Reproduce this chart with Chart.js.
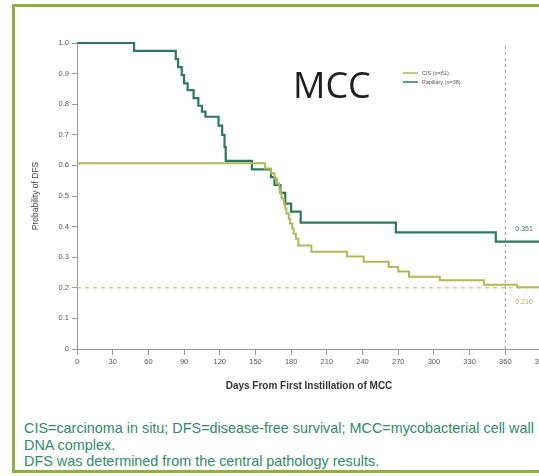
<!DOCTYPE html>
<html>
<head>
<meta charset="utf-8">
<script src="https://cdn.jsdelivr.net/npm/chart.js@4/dist/chart.umd.min.js"></script>
<style>
  body { margin: 0; background: #fff; overflow: hidden; width: 539px; height: 476px; position: relative; font-family: "Liberation Sans", Arial, sans-serif; }
  #frame { position: absolute; left: 12px; top: 4px; width: 600px; height: 463px; border: 3px solid #8fb13c; }
  #wrap { position: absolute; left: 0; top: 0; width: 560px; height: 400px; }
  #notes { position: absolute; left: 24px; top: 420px; font-size: 14.4px; line-height: 16.5px; color: #2f8a68; }
</style>
</head>
<body>
<div id="frame"></div>
<div id="wrap"><canvas id="myChart" width="560" height="400"></canvas></div>
<div id="notes">CIS=carcinoma in situ; DFS=disease-free survival; MCC=mycobacterial cell wall<br>DNA complex.<br>DFS was determined from the central pathology results.</div>
<script>
// data
const xTicks = [0, 30, 60, 90, 120, 150, 180, 210, 240, 270, 300, 330, 360, 390]
const yTicks = [0, 0.1, 0.2, 0.3, 0.4, 0.5, 0.6, 0.7, 0.8, 0.9, 1.0]

const cisDays = [0, 158, 163, 166, 168, 170, 171, 172, 174, 175, 176, 178, 179, 181, 182, 184, 186, 197, 227, 241, 262, 270, 279, 305, 342, 370, 390]
const cisSurv = [0.607, 0.59, 0.574, 0.557, 0.541, 0.525, 0.508, 0.492, 0.475, 0.459, 0.443, 0.426, 0.41, 0.393, 0.377, 0.36, 0.338, 0.318, 0.302, 0.285, 0.268, 0.253, 0.236, 0.225, 0.21, 0.202, 0.202]

const papDays = [0, 48, 83, 85, 88, 90, 93, 98, 102, 105, 108, 119, 122, 124, 125, 147, 163, 166, 171, 175, 180, 188, 268, 352, 390]
const papSurv = [1.0, 0.974, 0.947, 0.921, 0.895, 0.868, 0.846, 0.82, 0.795, 0.776, 0.759, 0.73, 0.70, 0.66, 0.615, 0.587, 0.562, 0.536, 0.51, 0.475, 0.449, 0.413, 0.381, 0.351, 0.351]

const refDay = 360
const refLevel = 0.2
const cisAt360 = 0.210
const papAt360 = 0.351

const cisColor = '#aebb55'
const papColor = '#2b7a5e'

let cisPts = []
for (let i = 0; i < cisDays.length; i++) {
    cisPts.push({x: cisDays[i], y: cisSurv[i]})
}
let papPts = []
for (let i = 0; i < papDays.length; i++) {
    papPts.push({x: papDays[i], y: papSurv[i]})
}

// big label, legend and end values
const extras = {
    id: 'extras',
    afterDraw(chart) {
        const c = chart.ctx
        const xs = chart.scales.x
        const ys = chart.scales.y
        c.save()
        c.fillStyle = '#1e1e1e'
        c.font = '36px "Open Sans", "Liberation Sans", sans-serif'
        c.textBaseline = 'middle'
        c.fillText('MCC', 293, 88)

        c.font = '5.5px "Liberation Sans", Arial, sans-serif'
        c.lineWidth = 1.5
        const items = [['CIS (n=61)', cisColor, 73], ['Papillary (n=38)', papColor, 82]]
        for (const it of items) {
            c.strokeStyle = it[1]
            c.beginPath()
            c.moveTo(403, it[2])
            c.lineTo(418, it[2])
            c.stroke()
            c.fillStyle = '#555'
            c.fillText(it[0], 422, it[2])
        }

        c.font = '7px "Liberation Sans", Arial, sans-serif'
        c.fillStyle = '#3f7f6a'
        c.fillText(papAt360.toFixed(3), xs.getPixelForValue(refDay) + 10, ys.getPixelForValue(papAt360) - 13)
        c.fillStyle = '#a9b04a'
        c.fillText(cisAt360.toFixed(3), xs.getPixelForValue(refDay) + 10, ys.getPixelForValue(cisAt360) + 17)
        c.restore()
    }
}

var ctx = document.getElementById('myChart')
var myChart = new Chart(ctx, {
    type: 'line',
    data: {
        datasets: [
            {
                label: 'ref360',
                data: [{x: refDay, y: 0}, {x: refDay, y: 1.0}],
                borderColor: '#9a9a9a',
                borderWidth: 1,
                borderDash: [3, 3],
                pointRadius: 0
            },
            {
                label: 'ref02',
                data: [{x: 0, y: refLevel}, {x: 390, y: refLevel}],
                borderColor: '#b5bd5a',
                borderWidth: 1,
                borderDash: [4, 4],
                pointRadius: 0
            },
            {
                label: 'CIS (n=61)',
                data: cisPts,
                stepped: true,
                borderColor: cisColor,
                borderWidth: 2,
                pointRadius: 0,
                clip: 4
            },
            {
                label: 'Papillary (n=38)',
                data: papPts,
                stepped: true,
                borderColor: papColor,
                borderWidth: 2.2,
                pointRadius: 0,
                clip: 4
            }
        ]
    },
    options: {
        responsive: false,
        animation: false,
        devicePixelRatio: 1,
        layout: { padding: { left: 0, top: 43, right: 19, bottom: 0 } },
        plugins: { legend: { display: false }, tooltip: { enabled: false } },
        scales: {
            x: {
                type: 'linear',
                min: 0,
                max: 390,
                afterBuildTicks: (s) => { s.ticks = xTicks.map(v => ({value: v})) },
                afterFit: (s) => { s.height = 51 },
                grid: { drawOnChartArea: false, drawTicks: true, tickLength: 6, color: '#999' },
                border: { color: '#999' },
                ticks: { font: { size: 7.5, family: '"Liberation Sans", Arial' }, color: '#555', padding: 2, maxRotation: 0, autoSkip: false },
                title: { display: true, text: 'Days From First Instillation of MCC', color: '#333', font: { size: 10, weight: 'bold', family: '"Liberation Sans", Arial' }, padding: { top: 0, bottom: 8 } }
            },
            y: {
                min: 0,
                max: 1.0,
                afterBuildTicks: (s) => { s.ticks = yTicks.map(v => ({value: v})) },
                afterFit: (s) => { s.width = 77 },
                grid: { drawOnChartArea: false, drawTicks: true, tickLength: 5, color: '#999' },
                border: { color: '#999' },
                ticks: { font: { size: 7.5, family: '"Liberation Sans", Arial' }, color: '#555', padding: 3, callback: (v) => v === 0 ? '0' : v.toFixed(1) },
                title: { display: true, text: 'Probability of DFS', color: '#444', font: { size: 8.5, family: '"Liberation Sans", Arial' }, padding: { top: 31, bottom: 0 } }
            }
        }
    },
    plugins: [extras]
})
</script>
</body>
</html>
